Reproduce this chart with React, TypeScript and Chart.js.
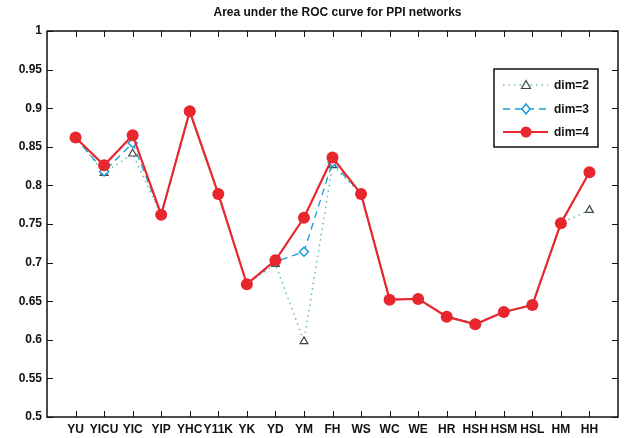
import React, { useEffect, useRef } from "react";
import { Chart, registerables } from "chart.js";

Chart.register(...registerables);

const categories = ["YU", "YICU", "YIC", "YIP", "YHC", "Y11K", "YK", "YD", "YM", "FH", "WS", "WC", "WE", "HR", "HSH", "HSM", "HSL", "HM", "HH"];
const dim2 = [0.862, 0.816, 0.841, 0.762, 0.895, 0.789, 0.672, 0.698, 0.598, 0.826, 0.789, 0.652, 0.653, 0.630, 0.621, 0.636, 0.645, 0.751, 0.768];
const dim3 = [0.862, 0.818, 0.855, 0.762, 0.895, 0.789, 0.672, 0.701, 0.714, 0.830, 0.789, 0.652, 0.653, 0.630, 0.621, 0.636, 0.645, 0.751, 0.817];
const dim4 = [0.862, 0.826, 0.865, 0.762, 0.896, 0.789, 0.672, 0.703, 0.758, 0.836, 0.789, 0.652, 0.653, 0.630, 0.620, 0.636, 0.645, 0.751, 0.817];
const yTicks = [0.5, 0.55, 0.6, 0.65, 0.7, 0.75, 0.8, 0.85, 0.9, 0.95, 1];
const titleText = "Area under the ROC curve for PPI networks";
const legendLabels = ["dim=2", "dim=3", "dim=4"];

const FONT = "bold 12px 'Liberation Sans', Arial, sans-serif";
const RED = "#e8262d";
const BLUE = "#1a9bd7";
const TEAL = "#5fbfa5";
const GRAY = "#444444";

const toXY = (arr: number[]) => arr.map((v, i) => ({ x: i + 1, y: v }));

const framePlugin = {
  id: "frame",
  afterDraw(chart: any) {
    const { ctx, chartArea } = chart;
    const { left, right, top, bottom } = chartArea;
    const xs = chart.scales.x;
    const ys = chart.scales.y;
    ctx.save();
    ctx.strokeStyle = "#111";
    ctx.lineWidth = 1;
    ctx.beginPath();
    for (let i = 1; i <= categories.length; i++) {
      const px = Math.round(xs.getPixelForValue(i)) + 0.5;
      ctx.moveTo(px, bottom);
      ctx.lineTo(px, bottom - 6);
      ctx.moveTo(px, top);
      ctx.lineTo(px, top + 6);
    }
    for (const t of yTicks) {
      const py = Math.round(ys.getPixelForValue(t)) + 0.5;
      ctx.moveTo(left, py);
      ctx.lineTo(left + 6, py);
      ctx.moveTo(right, py);
      ctx.lineTo(right - 6, py);
    }
    ctx.stroke();
    ctx.lineWidth = 1.5;
    ctx.strokeRect(left, top, right - left, bottom - top);

    // title
    ctx.fillStyle = "#111";
    ctx.font = "bold 12px 'Liberation Sans', Arial, sans-serif";
    ctx.textAlign = "center";
    ctx.textBaseline = "middle";
    ctx.fillText(titleText, (left + right) / 2 + 5, 13);

    // legend
    const bx = 494, by = 69, bw = 104, bh = 78;
    ctx.fillStyle = "#fff";
    ctx.fillRect(bx, by, bw, bh);
    ctx.lineWidth = 1.5;
    ctx.strokeStyle = "#111";
    ctx.strokeRect(bx, by, bw, bh);
    const rows = [85, 109, 132];
    const x0 = 503, x1 = 548, mx = 526;
    // dim=2
    ctx.save();
    ctx.strokeStyle = TEAL;
    ctx.lineWidth = 1.5;
    ctx.setLineDash([1.5, 4]);
    ctx.beginPath();
    ctx.moveTo(x0, rows[0]);
    ctx.lineTo(x1, rows[0]);
    ctx.stroke();
    ctx.restore();
    ctx.fillStyle = "#fff";
    ctx.strokeStyle = GRAY;
    ctx.lineWidth = 1.2;
    ctx.beginPath();
    ctx.moveTo(mx, rows[0] - 4.5);
    ctx.lineTo(mx + 4.5, rows[0] + 3.5);
    ctx.lineTo(mx - 4.5, rows[0] + 3.5);
    ctx.closePath();
    ctx.fill();
    ctx.stroke();
    // dim=3
    ctx.save();
    ctx.strokeStyle = BLUE;
    ctx.lineWidth = 1.3;
    ctx.setLineDash([7, 5]);
    ctx.beginPath();
    ctx.moveTo(x0, rows[1]);
    ctx.lineTo(x1, rows[1]);
    ctx.stroke();
    ctx.restore();
    ctx.fillStyle = "#fff";
    ctx.strokeStyle = BLUE;
    ctx.lineWidth = 1.5;
    ctx.beginPath();
    ctx.moveTo(mx, rows[1] - 5);
    ctx.lineTo(mx + 4, rows[1]);
    ctx.lineTo(mx, rows[1] + 5);
    ctx.lineTo(mx - 4, rows[1]);
    ctx.closePath();
    ctx.fill();
    ctx.stroke();
    // dim=4
    ctx.strokeStyle = RED;
    ctx.lineWidth = 2;
    ctx.beginPath();
    ctx.moveTo(x0, rows[2]);
    ctx.lineTo(x1, rows[2]);
    ctx.stroke();
    ctx.fillStyle = RED;
    ctx.beginPath();
    ctx.arc(mx, rows[2], 5.5, 0, Math.PI * 2);
    ctx.fill();
    ctx.fillStyle = "#111";
    ctx.font = FONT;
    ctx.textAlign = "left";
    ctx.textBaseline = "middle";
    legendLabels.forEach((l, i) => ctx.fillText(l, 554, rows[i] + 1));
    ctx.restore();
  },
};

export default function App() {
  const ref = useRef<HTMLCanvasElement>(null);
  useEffect(() => {
    document.body.style.margin = "0";
    const chart = new Chart(ref.current!, {
      type: "line",
      data: {
        datasets: [
          {
            label: legendLabels[0],
            data: toXY(dim2),
            order: 2,
            borderColor: TEAL,
            borderWidth: 1.5,
            borderDash: [1.5, 4],
            pointStyle: "triangle",
            pointRadius: 4.5,
            pointBorderColor: GRAY,
            pointBackgroundColor: "#fff",
            pointBorderWidth: 1.2,
            tension: 0,
          },
          {
            label: legendLabels[1],
            data: toXY(dim3),
            order: 1,
            borderColor: BLUE,
            borderWidth: 1.3,
            borderDash: [7, 5],
            pointStyle: "rectRot",
            pointRadius: 4.5,
            pointBorderColor: BLUE,
            pointBackgroundColor: "#fff",
            pointBorderWidth: 1.5,
            tension: 0,
          },
          {
            label: legendLabels[2],
            data: toXY(dim4),
            order: 0,
            borderColor: RED,
            borderWidth: 2.2,
            pointStyle: "circle",
            pointRadius: 6,
            pointBorderWidth: 0,
            pointBackgroundColor: RED,
            tension: 0,
          },
        ],
      },
      options: {
        responsive: false,
        animation: false,
        layout: { padding: { top: 31, right: 13, left: 0, bottom: 0 } },
        plugins: { legend: { display: false }, tooltip: { enabled: false }, title: { display: false } },
        scales: {
          x: {
            type: "linear",
            min: 0,
            max: 20,
            grid: { display: false, drawTicks: false },
            border: { display: false },
            afterFit: (s: any) => { s.height = 21; },
            afterBuildTicks: (s: any) => {
              s.ticks = categories.map((_, i) => ({ value: i + 1 }));
            },
            ticks: {
              autoSkip: false,
              maxRotation: 0,
              padding: 5,
              color: "#111",
              font: { family: "'Liberation Sans', Arial, sans-serif", size: 12, weight: "bold" },
              callback: (v: any) => categories[Math.round(v) - 1] ?? "",
            },
          },
          y: {
            min: 0.5,
            max: 1,
            grid: { display: false, drawTicks: false },
            border: { display: false },
            afterFit: (s: any) => { s.width = 47; },
            afterBuildTicks: (s: any) => {
              s.ticks = yTicks.map((v) => ({ value: v }));
            },
            ticks: {
              padding: 5,
              color: "#111",
              font: { family: "'Liberation Sans', Arial, sans-serif", size: 12, weight: "bold" },
              callback: (v: any) => String(Number(v.toFixed(2))),
            },
          },
        },
      },
      plugins: [framePlugin],
    });
    return () => chart.destroy();
  }, []);
  return <canvas ref={ref} width={631} height={438} style={{ display: "block" }} />;
}
